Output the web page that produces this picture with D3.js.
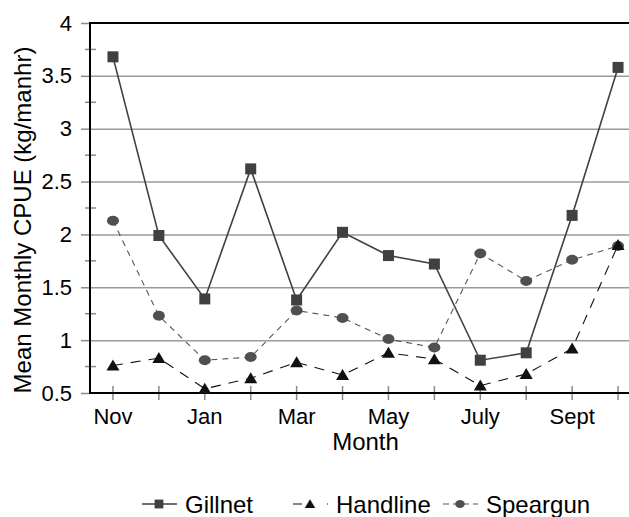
<!DOCTYPE html>
<html>
<head>
<meta charset="utf-8">
<script src="https://cdn.jsdelivr.net/npm/d3@7"></script>
<style>
  body { margin: 0; background: #fff; }
  text { font-family: "Liberation Sans", Arial, sans-serif; fill: #000; }
</style>
</head>
<body>
<div id="chart"></div>
<script>
// months along the x axis, only every other one gets a label
const months = ["Nov", "Dec", "Jan", "Feb", "Mar", "Apr", "May", "June", "July", "Aug", "Sept", "Oct"];
const monthLabels = ["Nov", "", "Jan", "", "Mar", "", "May", "", "July", "", "Sept", ""];

// mean monthly CPUE (kg/manhr) per gear type
const gillnet  = [3.68, 1.99, 1.39, 2.62, 1.38, 2.02, 1.80, 1.72, 0.81, 0.88, 2.18, 3.58];
const handline = [0.76, 0.83, 0.54, 0.64, 0.79, 0.67, 0.88, 0.82, 0.57, 0.68, 0.92, 1.90];
const speargun = [2.13, 1.23, 0.81, 0.84, 1.28, 1.21, 1.01, 0.93, 1.82, 1.56, 1.76, 1.89];

const yTicks = [0.5, 1, 1.5, 2, 2.5, 3, 3.5, 4];
const yMinor = [0.75, 1.25, 1.75, 2.25, 2.75, 3.25, 3.75];

const W = 629, H = 517;
const mLeft = 90, mRight = 641, mTop = 23, mBottom = 393;

const svg = d3.select("#chart")
    .append("svg")
    .attr("width", W)
    .attr("height", H);

const x = d3.scaleBand()
    .domain(months)
    .range([mLeft, mRight])
    .padding(0);

const y = d3.scaleLinear()
    .domain([0.5, 4])
    .range([mBottom, mTop]);

const cx = d => x(d) + x.bandwidth() / 2;

// horizontal grid lines
svg.append("g")
    .attr("transform", `translate(${mLeft},0)`)
    .call(d3.axisLeft(y).tickValues(yTicks.slice(1, -1)).tickSize(-(mRight - mLeft)).tickFormat(""))
    .call(g => g.select(".domain").remove())
    .call(g => g.selectAll("line").attr("stroke", "#9a9a9a").attr("stroke-width", 1.5));

// minor ticks on y axis
svg.append("g")
    .selectAll("line")
    .data(yMinor)
    .enter()
    .append("line")
    .attr("x1", mLeft - 5)
    .attr("x2", mLeft + 6)
    .attr("y1", d => y(d))
    .attr("y2", d => y(d))
    .attr("stroke", "#8a8a8a")
    .attr("stroke-width", 1.5);

// y axis with labels
svg.append("g")
    .attr("transform", `translate(${mLeft},0)`)
    .call(d3.axisLeft(y).tickValues(yTicks).tickSize(9).tickPadding(9).tickFormat(d => d))
    .call(g => g.select(".domain").remove())
    .call(g => g.selectAll("line").attr("stroke", "#8a8a8a").attr("stroke-width", 1.5))
    .call(g => g.selectAll("text").attr("font-size", 22).attr("fill", "#000")
        .style("font-family", "'Liberation Sans', Arial, sans-serif"));

// x axis ticks (cross the axis line)
svg.append("g")
    .attr("transform", `translate(0,${mBottom})`)
    .call(d3.axisBottom(x).tickSize(7).tickPadding(8).tickFormat((d, i) => monthLabels[i]))
    .call(g => g.select(".domain").remove())
    .call(g => g.selectAll("line").attr("y1", -7).attr("stroke", "#8a8a8a").attr("stroke-width", 1.5))
    .call(g => g.selectAll("text").attr("font-size", 22).attr("fill", "#000")
        .style("font-family", "'Liberation Sans', Arial, sans-serif"));

// frame: top border, left and bottom axis lines
svg.append("line").attr("x1", mLeft).attr("x2", W).attr("y1", mTop).attr("y2", mTop)
    .attr("stroke", "#000").attr("stroke-width", 2);
svg.append("line").attr("x1", mLeft).attr("x2", mLeft).attr("y1", mTop - 1).attr("y2", mBottom + 1)
    .attr("stroke", "#000").attr("stroke-width", 2);
svg.append("line").attr("x1", mLeft).attr("x2", W).attr("y1", mBottom).attr("y2", mBottom)
    .attr("stroke", "#000").attr("stroke-width", 2);

const line = d3.line()
    .x((d, i) => cx(months[i]))
    .y(d => y(d));

const series = [
  {name: "Gillnet", values: gillnet, stroke: "#404040", width: 1.6, dash: null, shape: "square", fill: "#404040"},
  {name: "Handline", values: handline, stroke: "#111", width: 1.1, dash: "10,8", shape: "triangle", fill: "#111"},
  {name: "Speargun", values: speargun, stroke: "#555", width: 1.1, dash: "6,5", shape: "circle", fill: "#505050"}
];

function drawMarker(g, shape, fill) {
  if (shape === "square") {
    g.append("rect").attr("x", -5.5).attr("y", -5.5).attr("width", 11).attr("height", 11).attr("fill", fill);
  } else if (shape === "triangle") {
    g.append("path").attr("d", "M0,-6 L6.5,5 L-6.5,5 Z").attr("fill", fill);
  } else {
    g.append("ellipse").attr("rx", 6).attr("ry", 5).attr("fill", fill);
  }
}

// lines drawn in reverse order so gillnet sits on top
series.slice().reverse().forEach(s => {
  svg.append("path")
      .datum(s.values)
      .attr("d", line)
      .attr("fill", "none")
      .attr("stroke", s.stroke)
      .attr("stroke-width", s.width)
      .attr("stroke-dasharray", s.dash);

  svg.selectAll(".m-" + s.name)
      .data(s.values)
      .enter()
      .append("g")
      .attr("class", "m-" + s.name)
      .attr("transform", (d, i) => `translate(${cx(months[i])},${y(d)})`)
      .each(function() { drawMarker(d3.select(this), s.shape, s.fill); });
});

// axis titles
svg.append("text")
    .attr("transform", `translate(31,${(mTop + mBottom) / 2 + 12}) rotate(-90)`)
    .attr("text-anchor", "middle")
    .attr("font-size", 24)
    .text("Mean Monthly CPUE (kg/manhr)");

svg.append("text")
    .attr("x", (mLeft + mRight) / 2)
    .attr("y", 450)
    .attr("text-anchor", "middle")
    .attr("font-size", 24)
    .text("Month");

// legend
const legendX = [142, 293, 443];
const legend = svg.append("g");
series.forEach((s, i) => {
  const g = legend.append("g").attr("transform", `translate(${legendX[i]},504)`);
  g.append("line")
      .attr("x1", 0).attr("x2", 35)
      .attr("stroke", s.stroke)
      .attr("stroke-width", s.width)
      .attr("stroke-dasharray", s.shape === "square" ? null : (s.shape === "triangle" ? "9,25" : "6,4"));
  const m = g.append("g").attr("transform", "translate(17,0) scale(0.8)");
  drawMarker(m, s.shape, s.fill);
  g.append("text")
      .attr("x", 43)
      .attr("y", 9)
      .attr("font-size", 24)
      .text(s.name);
});
</script>
</body>
</html>
